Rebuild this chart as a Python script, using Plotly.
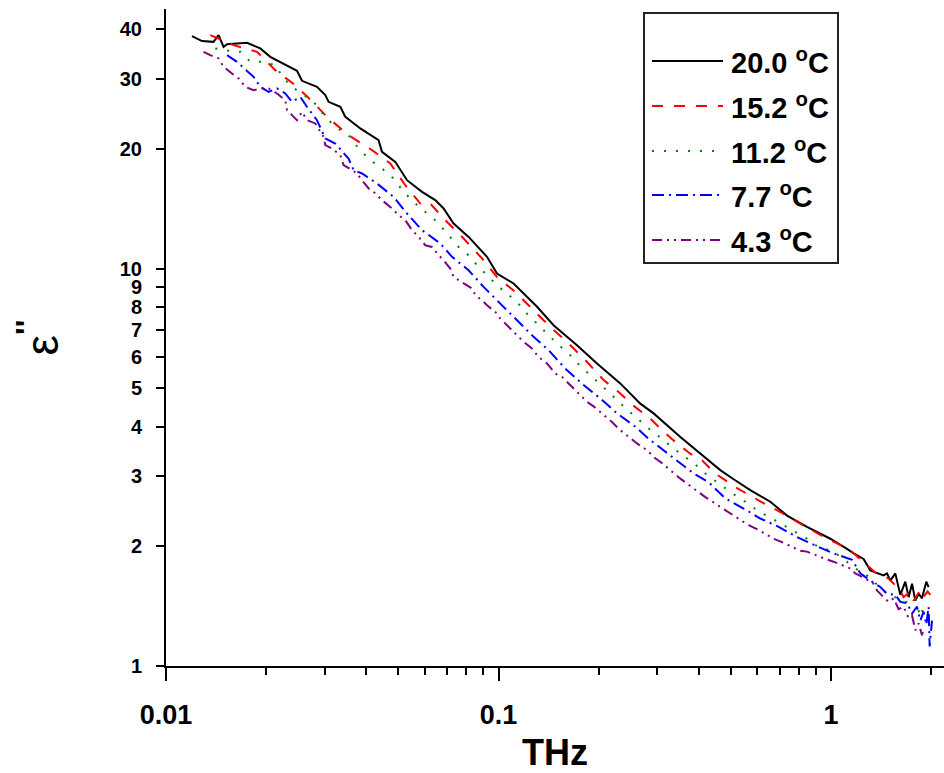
import math
import plotly.graph_objects as go

# ---------------- data ----------------
freq_200 = [0.01197, 0.01283, 0.01390, 0.01439, 0.01490, 0.01526, 0.01752, 0.01921, 0.02059, 0.02258,
            0.02477, 0.02565, 0.02845, 0.03014, 0.03083, 0.03344, 0.03462, 0.03840, 0.04358, 0.04462,
            0.04893, 0.05307, 0.05888, 0.06455, 0.06837, 0.07328, 0.08130, 0.09234, 0.09897, 0.1110,
            0.1218, 0.1306, 0.1464, 0.1722, 0.1978, 0.2324, 0.2670, 0.2928, 0.3523, 0.4140,
            0.4646, 0.5095, 0.5719, 0.6568, 0.7375, 0.8469, 0.9952, 1.117, 1.170, 1.253,
            1.313, 1.359, 1.439, 1.474, 1.508, 1.561, 1.616, 1.673, 1.712, 1.753,
            1.793, 1.835, 1.878, 1.935, 1.966]
eps_200 = [38.43, 37.33, 37.17, 38.65, 36.12, 36.68, 36.96, 35.78, 34.08, 32.80,
           31.42, 29.66, 28.64, 27.30, 26.26, 25.51, 24.07, 22.51, 21.03, 19.65,
           18.55, 16.68, 15.59, 14.86, 14.16, 12.98, 12.01, 10.70, 9.71, 9.17,
           8.48, 8.01, 7.20, 6.41, 5.77, 5.14, 4.57, 4.32, 3.77, 3.36,
           3.11, 2.95, 2.77, 2.59, 2.39, 2.24, 2.09, 1.97, 1.92, 1.86,
           1.74, 1.72, 1.69, 1.71, 1.64, 1.71, 1.51, 1.63, 1.49, 1.61,
           1.46, 1.52, 1.48, 1.63, 1.58]

freq_152 = [0.01359, 0.01439, 0.01597, 0.01878, 0.02132, 0.02448, 0.02779, 0.03050, 0.03541, 0.04164,
            0.04726, 0.05244, 0.05818, 0.06163, 0.06918, 0.07852, 0.08920, 0.09897, 0.1123, 0.1275,
            0.1431, 0.1625, 0.1846, 0.2071, 0.2297, 0.2579, 0.2861, 0.3102, 0.3402, 0.3775,
            0.4093, 0.4487, 0.5155, 0.6054, 0.7039, 0.8087, 0.9727, 1.130, 1.253, 1.359,
            1.490, 1.616, 1.653, 1.732, 1.772, 1.856, 1.899, 1.952, 1.989]
eps_152 = [38.65, 37.92, 36.47, 35.09, 31.55, 28.92, 26.11, 24.07, 21.65, 19.85,
           18.38, 16.20, 14.57, 14.71, 13.23, 11.90, 10.60, 9.52, 8.73, 7.85,
           7.13, 6.48, 5.82, 5.24, 4.89, 4.48, 4.19, 3.92, 3.66, 3.42,
           3.29, 3.05, 2.82, 2.61, 2.44, 2.28, 2.09, 1.97, 1.83, 1.72,
           1.66, 1.55, 1.49, 1.54, 1.46, 1.55, 1.49, 1.54, 1.51]

freq_112 = [0.01407, 0.01543, 0.01673, 0.01793, 0.01944, 0.02132, 0.02258, 0.02393, 0.02779, 0.03014,
            0.03229, 0.03541, 0.03795, 0.04116, 0.04462, 0.04835, 0.05183, 0.05556, 0.06024, 0.06531,
            0.07078, 0.07586, 0.08130, 0.08712, 0.09234, 0.09897, 0.1061, 0.1137, 0.1218, 0.1306,
            0.1399, 0.1499, 0.1625, 0.1741, 0.1866, 0.2024, 0.2194, 0.2378, 0.2609, 0.2828,
            0.3137, 0.3523, 0.3862, 0.4188, 0.4592, 0.5039, 0.5525, 0.6054, 0.6647, 0.7375,
            0.7993, 0.8469, 0.9177, 1.007, 1.091, 1.170, 1.283, 1.474, 1.597, 1.712,
            1.793, 1.856, 1.921]
eps_112 = [35.78, 35.29, 35.09, 33.11, 33.11, 32.48, 30.07, 28.64, 26.26, 24.07,
           22.72, 21.65, 20.04, 18.73, 17.85, 16.84, 15.59, 14.71, 13.88, 13.10,
           12.13, 11.33, 10.80, 10.09, 9.62, 9.08, 8.65, 8.24, 7.70, 7.27,
           6.88, 6.48, 6.11, 5.74, 5.44, 5.12, 4.80, 4.50, 4.19, 3.96,
           3.70, 3.42, 3.24, 3.05, 2.88, 2.72, 2.59, 2.45, 2.35, 2.24,
           2.15, 2.09, 1.99, 1.95, 1.86, 1.77, 1.69, 1.52, 1.48, 1.44,
           1.48, 1.33, 1.45]

freq_77 = [0.01526, 0.01635, 0.01732, 0.01834, 0.01921, 0.02035, 0.02157, 0.02285, 0.02393, 0.02534,
           0.02655, 0.02845, 0.03014, 0.03229, 0.03541, 0.03666, 0.03886, 0.04311, 0.04835, 0.05307,
           0.05888, 0.06683, 0.07248, 0.08130, 0.09019, 0.1001, 0.1123, 0.1275, 0.1415, 0.1588,
           0.1803, 0.2024, 0.2272, 0.2579, 0.2828, 0.3137, 0.3481, 0.3862, 0.4284, 0.4810,
           0.5460, 0.6128, 0.6957, 0.7904, 0.8972, 1.018, 1.157, 1.225, 1.328, 1.407,
           1.474, 1.561, 1.616, 1.693, 1.753, 1.814, 1.856, 1.899, 1.935, 1.966,
           1.980, 2.013]
eps_77 = [34.41, 33.11, 31.68, 30.35, 28.64, 27.82, 28.38, 27.56, 26.26, 27.03,
          25.51, 23.61, 21.24, 20.63, 18.91, 17.68, 17.34, 16.36, 15.14, 13.75,
          12.49, 11.56, 10.70, 9.90, 8.99, 8.24, 7.48, 6.73, 6.23, 5.60,
          5.09, 4.71, 4.32, 4.00, 3.73, 3.49, 3.26, 3.05, 2.90, 2.64,
          2.49, 2.35, 2.24, 2.11, 2.01, 1.92, 1.85, 1.71, 1.63, 1.58,
          1.52, 1.51, 1.45, 1.44, 1.355, 1.41, 1.30, 1.37, 1.27, 1.41,
          1.12, 1.30]

freq_43 = [0.01297, 0.01359, 0.01439, 0.01490, 0.01579, 0.01654, 0.01732, 0.01834, 0.01944, 0.02035,
           0.02157, 0.02285, 0.02312, 0.02477, 0.02565, 0.02655, 0.02812, 0.02979, 0.03014, 0.03157,
           0.03344, 0.03421, 0.03626, 0.03753, 0.03886, 0.04068, 0.04211, 0.04462, 0.04782, 0.05006,
           0.05244, 0.05494, 0.05751, 0.06024, 0.06310, 0.06604, 0.06837, 0.07161, 0.07328, 0.07586,
           0.08323, 0.08516, 0.08920, 0.09234, 0.09781, 0.1013, 0.1190, 0.1261, 0.1320, 0.1399,
           0.1482, 0.1552, 0.1644, 0.1741, 0.1846, 0.1932, 0.2048, 0.2194, 0.2324, 0.2462,
           0.2609, 0.2797, 0.2962, 0.3102, 0.3325, 0.3523, 0.4188, 0.4487, 0.4810, 0.5095,
           0.5337, 0.5653, 0.6054, 0.6344, 0.6721, 0.7122, 0.7633, 0.8087, 0.8469, 0.8972,
           0.9614, 1.018, 1.091, 1.143, 1.183, 1.253, 1.343, 1.375, 1.439, 1.490,
           1.543, 1.597, 1.653, 1.712, 1.753, 1.793, 1.835, 1.878, 1.899]
eps_43 = [35.09, 34.41, 33.77, 32.17, 30.95, 30.07, 28.64, 28.09, 28.38, 28.38,
          27.56, 26.52, 25.02, 23.61, 24.78, 23.61, 23.17, 21.44, 20.43, 20.04,
          19.28, 18.20, 17.68, 17.34, 16.68, 15.90, 15.59, 14.86, 14.16, 13.62,
          13.23, 12.49, 12.01, 11.44, 11.33, 10.80, 10.49, 10.00, 9.52, 9.35,
          8.91, 8.57, 8.32, 8.08, 7.78, 7.48, 6.54, 6.29, 5.99, 5.77,
          5.44, 5.34, 5.09, 4.85, 4.62, 4.50, 4.32, 4.11, 3.92, 3.77,
          3.63, 3.49, 3.33, 3.24, 3.08, 2.96, 2.66, 2.56, 2.47, 2.39,
          2.33, 2.26, 2.20, 2.15, 2.09, 2.05, 1.99, 1.95, 1.94, 1.90,
          1.86, 1.83, 1.79, 1.76, 1.71, 1.67, 1.61, 1.55, 1.49, 1.45,
          1.48, 1.39, 1.41, 1.32, 1.34, 1.23, 1.28, 1.195, 1.25]

series_labels = ["20.0 <sup>o</sup>C", "15.2 <sup>o</sup>C", "11.2 <sup>o</sup>C",
                 "7.7 <sup>o</sup>C", "4.3 <sup>o</sup>C"]
series_x = [freq_200, freq_152, freq_112, freq_77, freq_43]
series_y = [eps_200, eps_152, eps_112, eps_77, eps_43]

x_major_ticks = [0.01, 0.1, 1]
x_major_text = ["0.01", "0.1", "1"]
x_minor_ticks = [0.02, 0.03, 0.04, 0.05, 0.06, 0.07, 0.08, 0.09,
                 0.2, 0.3, 0.4, 0.5, 0.6, 0.7, 0.8, 0.9, 2]
y_ticks = [1, 2, 3, 4, 5, 6, 7, 8, 9, 10, 20, 30, 40]
y_tick_text = ["1", "2", "3", "4", "5", "6", "7", "8", "9", "10", "20", "30", "40"]
y_long_ticks = [1, 10]

# ---------------- styles ----------------
colors = ["#000000", "#ff0000", "#008000", "#0000ff", "#800080"]
dashes = ["solid", "11px,11px", "2px,10px", "12px,5px,2px,5px", "10px,5px,2px,5px,2px,5px"]

W, H = 944, 773
ML, MR, MT, MB = 166, 0, 9, 107
PW, PH = W - ML - MR, H - MT - MB
X_RANGE = [-2, -2 + PW / 332.5]
Y_RANGE = [0, PH / 397.5]

FONT = "Liberation Sans, Arial, sans-serif"


def px2paper(px, py):
    return (px - ML) / PW, (H - MB - py) / PH


fig = go.Figure()
for xs, ys, c, d in zip(series_x, series_y, colors, dashes):
    fig.add_trace(go.Scatter(x=xs, y=ys, mode="lines",
                             line=dict(color=c, width=2, dash=d),
                             showlegend=False, hoverinfo="skip"))

# ---------------- custom legend (long line samples like the original) ----------------
bx0, by1 = px2paper(644, 13)
bx1, by0 = px2paper(838, 263)
fig.add_shape(type="rect", xref="paper", yref="paper", x0=bx0, x1=bx1, y0=by0, y1=by1,
              line=dict(color="#222222", width=2), fillcolor="white", layer="above")
row_y = [61, 106, 151, 195, 240]
for lab, c, d, ry in zip(series_labels, colors, dashes, row_y):
    lx0, ly = px2paper(652, ry)
    lx1, _ = px2paper(723, ry)
    fig.add_shape(type="line", xref="paper", yref="paper", x0=lx0, x1=lx1, y0=ly, y1=ly,
                  line=dict(color=c, width=2, dash=d), layer="above")
    tx, _ = px2paper(729, ry)
    fig.add_annotation(xref="paper", yref="paper", x=tx, y=ly, text=lab, showarrow=False,
                       xanchor="left", yanchor="middle",
                       font=dict(family=FONT, size=29, color="black", weight="bold"))

fig.update_layout(
    width=W, height=H,
    margin=dict(l=ML, r=MR, t=MT, b=MB, autoexpand=False),
    paper_bgcolor="white", plot_bgcolor="white",
    showlegend=False,
    xaxis=dict(type="log", range=X_RANGE, showline=True, linecolor="black", linewidth=2,
               showgrid=False, zeroline=False, ticks="outside", ticklen=13, tickwidth=2,
               tickcolor="black", tickmode="array", tickvals=x_major_ticks, ticktext=x_major_text,
               tickfont=dict(family=FONT, size=27, color="black", weight="bold"),
               ticklabelstandoff=11,
               minor=dict(tickmode="array", tickvals=x_minor_ticks, ticks="outside",
                          ticklen=7, tickwidth=2, tickcolor="black", showgrid=False),
               title=dict(text="THz", standoff=27,
                          font=dict(family=FONT, size=36, color="black", weight="bold"))),
    yaxis=dict(type="log", range=Y_RANGE, showline=True, linecolor="black", linewidth=2,
               showgrid=False, zeroline=False, ticks="outside", ticklen=8, tickwidth=2,
               tickcolor="black", tickmode="array", tickvals=y_ticks, ticktext=y_tick_text,
               tickfont=dict(family=FONT, size=20, color="black", weight="bold"),
               ticklabelstandoff=10,
               title=dict(text="ε<sup><b>''</b></sup>", standoff=47,
                          font=dict(family=FONT, size=46, color="black"))),
    yaxis2=dict(type="log", range=Y_RANGE, overlaying="y", anchor="x", side="left",
                showline=False, showgrid=False, zeroline=False, ticks="outside", ticklen=13,
                tickwidth=2, tickcolor="black", tickmode="array", tickvals=y_long_ticks,
                showticklabels=False),
)

fig.write_html("out.html", config={"displayModeBar": False},
               post_script="document.body.style.margin='0px';document.body.style.overflow='hidden';")
